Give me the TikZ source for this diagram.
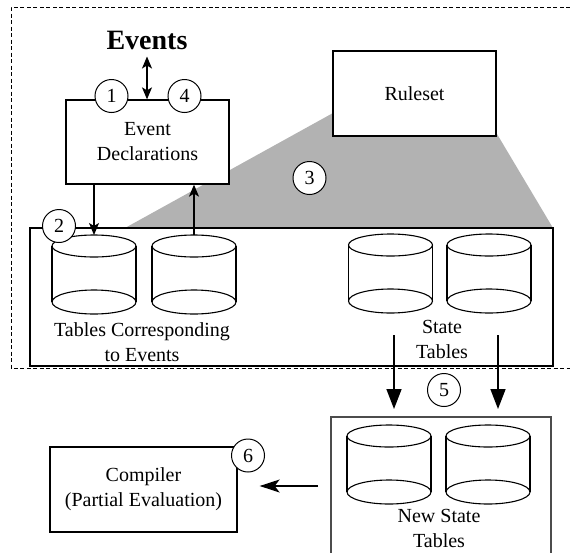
\documentclass[tikz,border=0pt]{standalone}
\usepackage{fontspec}
\setmainfont{Liberation Serif}
\usetikzlibrary{arrows.meta}
\begin{document}
\begin{tikzpicture}[x=1pt,y=-1pt,
  box/.style={draw, line width=1.3pt, fill=white, inner sep=0pt},
  num/.style={circle, draw, line width=1pt, fill=white, minimum size=33pt, inner sep=0pt, font=\fontsize{20}{24}\selectfont},
  lbl/.style={align=center, inner sep=0pt, font=\fontsize{20}{25}\selectfont},
  cylline/.style={line width=1.1pt},
  arr/.style={-{Stealth[length=12pt,width=10pt,inset=3pt]}, line width=1.3pt},
  dblarr/.style={{Stealth[length=12pt,width=10pt,inset=3pt]}-{Stealth[length=12pt,width=10pt,inset=3pt]}, line width=1.3pt},
  bigarr/.style={-{Triangle[length=20pt,width=15pt]}, line width=1.6pt},
  dashline/.style={line width=0.9pt, dash pattern=on 4pt off 2.5pt},
  cyl/.pic={
    \draw[cylline] (-42,0) -- (-42,56) (42,0) -- (42,56);
    \draw[cylline] (0,0) ellipse [x radius=42pt, y radius=11pt];
    \draw[cylline] (0,56) ellipse [x radius=42pt, y radius=12pt];
    \coordinate (-top) at (0,-11);
  }]
\useasboundingbox (0,0) rectangle (570,552);

% dashed outer frame (open to the right)
\draw[dashline] (570,7) -- (11,7) -- (11,368) -- (570,368);

% gray projection from the ruleset
\fill[gray!60] (125,228) -- (333,113) -- (497,134) -- (553,228) -- cycle;

% main box with tables
\node[box, fill=none, minimum width=523pt, minimum height=138pt] (main) at (291.5,297) {};

% ruleset
\node[box, minimum width=163pt, minimum height=85pt, lbl] (rules) at (414.5,93.5) {Ruleset};

% event declarations
\node[box, minimum width=163pt, minimum height=84pt, lbl] (ed) at (147.5,142) {Event\\Declarations};

% Events
\node[inner sep=0pt, font=\fontsize{28}{30}\selectfont\bfseries] (ev) at (147,40) {Events};
\draw[dblarr] ([yshift=-7pt]ev.south) -- (ed.north -| ev.south);

% cylinders in main box
\pic (cA) at (94,246) {cyl};
\pic (cB) at (194,246) {cyl};
\pic (cC) at (390.5,245) {cyl};
\pic (cD) at (489,245) {cyl};

\draw[arr] (ed.south -| cA-top) -- (cA-top);
\draw[arr] (cB-top) -- (cB-top |- ed.south);

\node[lbl] (tce) at (142,342) {Tables Corresponding\\to Events};
\node[lbl] (st) at (442,339) {State\\Tables};

% new state tables
\draw[line width=1.2pt, black!70] (331,560) -- (331,417) -- (551,417) -- (551,560);
\coordinate (nsbox) at (441,417);
\pic (cE) at (389,436) {cyl};
\pic (cF) at (488,436) {cyl};
\node[lbl] (nst) at (439,528) {New State\\Tables};

\coordinate (s1) at (394,335);
\coordinate (s2) at (498,335);
\coordinate (e1) at (394,409);
\coordinate (e2) at (498,409);
\draw[bigarr] (s1) -- (e1);
\draw[bigarr] (s2) -- (e2);

% compiler
\node[box, minimum width=187pt, minimum height=85pt, lbl] (comp) at (143.5,489.5) {Compiler\\(Partial Evaluation)};
\coordinate (l1) at (318,486);
\draw[-{Stealth[length=20pt,width=13pt,inset=5pt]}, line width=1.3pt] (l1) -- ([xshift=22pt]comp.east |- l1);

% numbered circles
\node[num] (n1) at (111.5,96) {1};
\node[num] (n4) at (184.5,96) {4};
\node[num] (n2) at (59,226) {2};
\node[num] (n3) at (309.5,178) {3};
\node[num] (n5) at (444,390) {5};
\node[num] (n6) at (248,455.5) {6};
\end{tikzpicture}
\end{document}
